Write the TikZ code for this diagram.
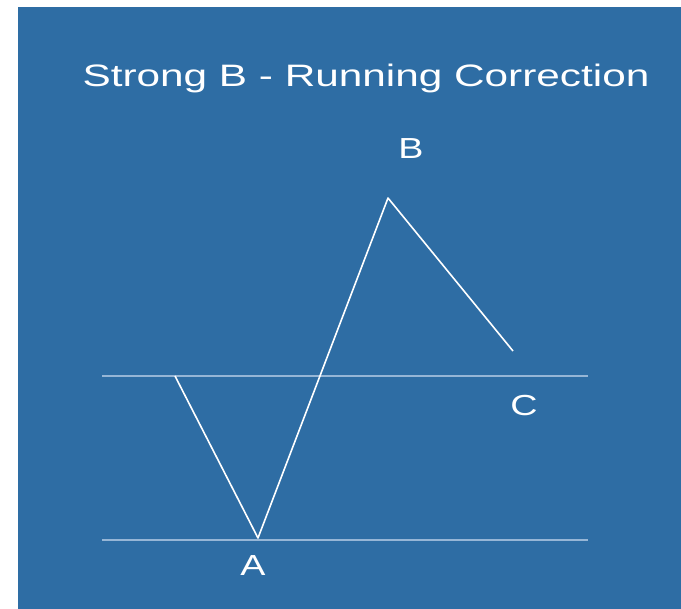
\documentclass[tikz,border=0pt]{standalone}
\usepackage{fontspec}
\setmainfont{Liberation Sans}
\definecolor{chartblue}{RGB}{46,109,164}
\definecolor{levelgray}{RGB}{150,182,214}
\tikzset{
  wave/.style={draw=white,line width=1.6pt,line join=round},
  level/.style={draw=levelgray,line width=1.4pt},
  ptlabel/.style={text=white,inner sep=0pt,font=\fontsize{29}{29}\selectfont,xscale=1.3},
}
\begin{document}
\begin{tikzpicture}[x=1pt,y=-1pt]
   \useasboundingbox (0,0) rectangle (681,609);
   \fill[chartblue] (18,7) rectangle (681,609);

   \node[text=white,inner sep=0pt,font=\fontsize{31}{31}\selectfont,xscale=1.365] (title) at (366,78) {Strong B - Running Correction};

      % levels
      \coordinate (cl) at (102,376);
      \coordinate (cr) at (588,376);
      \coordinate (al) at (102,540);
      \coordinate (ar) at (588,540);
      \draw[level] (cl) -- (cr);
      \draw[level] (al) -- (ar);

      % zigzag
   \coordinate (start) at (175,376);
   \coordinate (A) at (258,538);
   \coordinate (B) at (388,198);
   \coordinate (C) at (513,351);
      \draw[wave] (start) -- (A) -- (B) -- (C);

   \node[ptlabel] (labA) at (253,566) {A};
   \node[ptlabel] (labB) at (411,149) {B};
   \node[ptlabel] (labC) at (524,406) {C};
\end{tikzpicture}
\end{document}
